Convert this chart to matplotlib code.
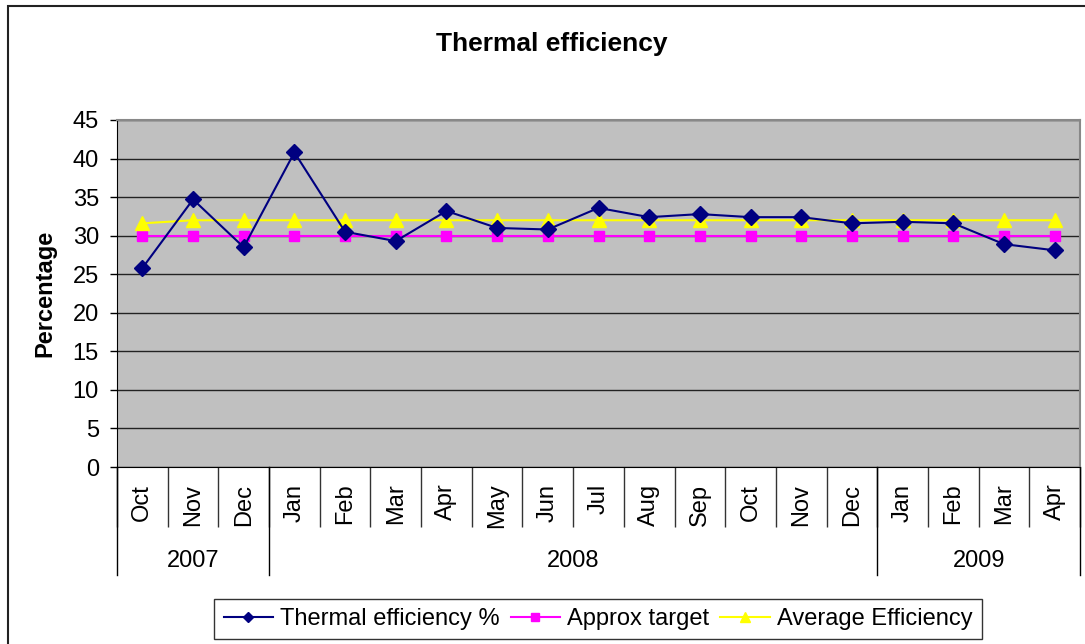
import matplotlib
matplotlib.use("Agg")
import matplotlib.pyplot as plt
import matplotlib.transforms as mtransforms
from matplotlib.patches import Rectangle
import numpy as np

plt.rcParams['font.family'] = ['Liberation Sans', 'DejaVu Sans']

# data
months = ["Oct", "Nov", "Dec", "Jan", "Feb", "Mar", "Apr", "May", "Jun", "Jul",
          "Aug", "Sep", "Oct", "Nov", "Dec", "Jan", "Feb", "Mar", "Apr"]
years = ["2007", "2008", "2009"]
year_counts = [3, 12, 4]
thermal_eff = [25.8, 34.7, 28.5, 40.8, 30.5, 29.3, 33.2, 31.0, 30.8, 33.6,
               32.4, 32.8, 32.4, 32.4, 31.6, 31.8, 31.6, 28.9, 28.1]
approx_target = [30, 30, 30, 30, 30, 30, 30, 30, 30, 30,
                 30, 30, 30, 30, 30, 30, 30, 30, 30]
avg_eff = [31.6, 32.0, 32.0, 32.0, 32.0, 32.0, 32.0, 32.0, 32.0, 32.0,
           32.0, 32.0, 32.0, 32.0, 32.0, 32.0, 32.0, 32.0, 32.0]
yticks = [0, 5, 10, 15, 20, 25, 30, 35, 40, 45]

W, H = 1085, 644
fig = plt.figure(figsize=(W / 100, H / 100), dpi=100)
fig.patch.set_facecolor("white")

# outer chart border (top and left visible, right/bottom run off the image)
fig.patches.append(Rectangle((8 / W, -0.05), 1.1, 1 - 6 / H + 0.05, transform=fig.transFigure,
                             fill=False, edgecolor="#222222", lw=1.5))

ax = fig.add_axes([117 / W, 1 - 467 / H, (1080 - 117) / W, (467 - 120) / H])
ax.set_facecolor("#C0C0C0")

x = np.arange(len(months))
ax.plot(x, thermal_eff, color="#000080", lw=1.5, marker="D", ms=8,
        label="Thermal efficiency %", zorder=5)
ax.plot(x, approx_target, color="#FF00FF", lw=1.5, marker="s", ms=7.5,
        label="Approx target", zorder=3)
ax.plot(x, avg_eff, color="#FFFF00", lw=1.5, marker="^", ms=10,
        label="Average Efficiency", zorder=4)

ax.set_xlim(-0.5, len(months) - 0.5)
ax.set_ylim(0, 45)
ax.set_yticks(yticks)
ax.tick_params(axis="y", direction="out", length=5, width=1, pad=8, labelsize=17)
ax.yaxis.grid(True, color="#222222", lw=1)
ax.set_axisbelow(True)

# month separators as long major ticks, labels on minor ticks
ax.set_xticks(np.arange(len(months) + 1) - 0.5)
ax.set_xticklabels([])
ax.tick_params(axis="x", which="major", direction="out", length=43, width=1, color="#333333")
ax.set_xticks(x, minor=True)
ax.set_xticklabels(months, minor=True, rotation=90, fontsize=17)
ax.tick_params(axis="x", which="minor", length=0, pad=12)

for side in ["top", "right"]:
    ax.spines[side].set_color("#888888")
    ax.spines[side].set_linewidth(1.5)
ax.spines["left"].set_color("black")
ax.spines["bottom"].set_color("black")

# year group separators and labels
trans = mtransforms.blended_transform_factory(ax.transData, ax.transAxes)
edges = np.concatenate([[0], np.cumsum(year_counts)]) - 0.5
for e in edges:
    ax.plot([e, e], [0, -0.311], transform=trans, color="black", lw=1, clip_on=False)
for i, yr in enumerate(years):
    ax.text((edges[i] + edges[i + 1]) / 2, -0.272, yr, transform=trans,
            ha="center", va="center", fontsize=17)

ax.set_ylabel("Percentage", fontsize=17, fontweight="bold", labelpad=12)
fig.text(552 / W, 1 - 44 / H, "Thermal efficiency",
         ha="center", va="center", fontsize=19, fontweight="bold")

leg = fig.legend(loc="center", bbox_to_anchor=(598 / W, 1 - 619 / H), ncol=3,
                 fontsize=17, frameon=True, fancybox=False, edgecolor="black",
                 handlelength=2.1, columnspacing=0.45, handletextpad=0.3,
                 borderpad=0.4, markerscale=0.7)
leg.get_frame().set_linewidth(1)

fig.savefig("out.png", dpi=100)
